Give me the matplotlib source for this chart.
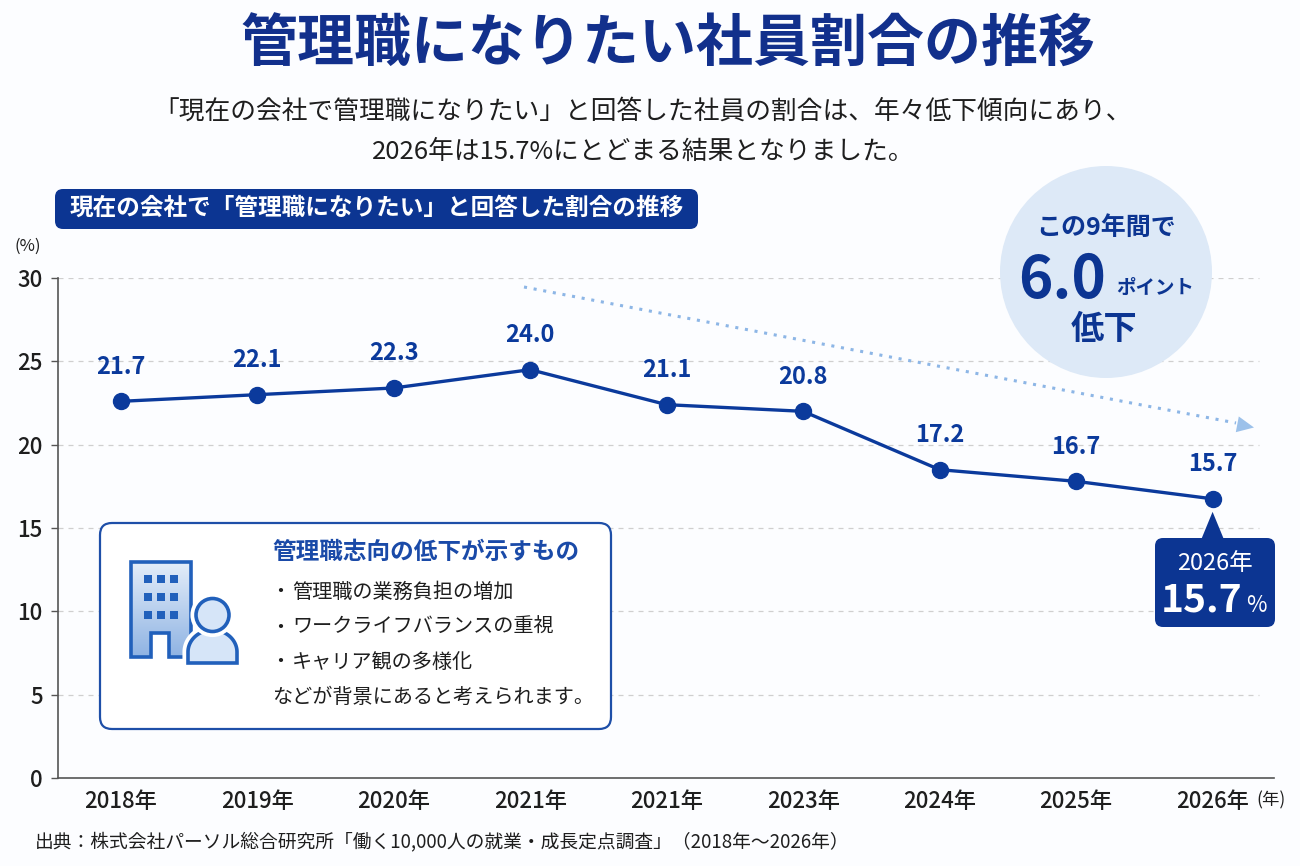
import numpy as np
import matplotlib
matplotlib.use('Agg')
import matplotlib.pyplot as plt
from matplotlib.patches import FancyBboxPatch, Circle, Polygon, Rectangle
from matplotlib.colors import LinearSegmentedColormap

plt.rcParams['font.family'] = ['Noto Sans CJK JP', 'DejaVu Sans']

# ---------------- data ----------------
years = ['2018年', '2019年', '2020年', '2021年', '2021年', '2023年', '2024年', '2025年', '2026年']
plot_values = [22.6, 23.0, 23.4, 24.5, 22.4, 22.0, 18.5, 17.8, 16.75]
label_values = ['21.7', '22.1', '22.3', '24.0', '21.1', '20.8', '17.2', '16.7', '15.7']
y_ticks = [0, 5, 10, 15, 20, 25, 30]

title = '管理職になりたい社員割合の推移'
subtitle1 = '「現在の会社で管理職になりたい」と回答した社員の割合は、年々低下傾向にあり、'
subtitle2 = '2026年は15.7%にとどまる結果となりました。'
chart_label = '現在の会社で「管理職になりたい」と回答した割合の推移'
info_title = '管理職志向の低下が示すもの'
info_items = ['管理職の業務負担の増加', 'ワークライフバランスの重視', 'キャリア観の多様化']
info_last = 'などが背景にあると考えられます。'
source = '出典：株式会社パーソル総合研究所「働く10,000人の就業・成長定点調査」（2018年～2026年）'

NAVY = '#0c3592'
LINE = '#0b3a9c'
TXT = '#1e1e1e'

W, H = 1300, 866
fig = plt.figure(figsize=(13, 8.66), dpi=100)
fig.patch.set_facecolor('#fcfdff')

ax = fig.add_axes([58 / W, 88 / H, (1274 - 58) / W, 500 / H])
ax.patch.set_alpha(0)
x = np.arange(len(years))
ax.set_xlim(-0.46, 8.45)
ax.set_ylim(0, 30)
ax.hlines(y_ticks[1:], -0.46, 8.34, colors='#cfcfcf', linestyles=(0, (4, 4)), lw=0.9, zorder=1)
ax.plot(x, plot_values, color=LINE, lw=2.4, marker='o', ms=11.5, zorder=3)
for xi, v, lab in zip(x, plot_values, label_values):
    ax.annotate(lab, (xi, v), xytext=(0, 25), textcoords='offset points',
                ha='center', va='center', fontsize=17, fontweight='bold', color=LINE)
for s in ['top', 'right']:
    ax.spines[s].set_visible(False)
for s in ['left', 'bottom']:
    ax.spines[s].set_color('#555555')
    ax.spines[s].set_linewidth(1.2)
ax.set_yticks(y_ticks)
ax.set_yticklabels([str(t) for t in y_ticks], fontsize=16, color=TXT, fontweight='medium')
ax.tick_params(axis='y', length=5, width=1, color='#555555', pad=6)
ax.set_xticks(x)
ax.set_xticklabels(years, fontsize=16, color=TXT, fontweight='medium')
ax.tick_params(axis='x', length=0, pad=9)

# ---------------- overlay (pixel coords, top-left origin) ----------------
ov = fig.add_axes([0, 0, 1, 1], zorder=5)
ov.patch.set_alpha(0)
ov.axis('off')

ov.text(668, 45, title, fontsize=41, fontweight='bold', color='#12308c', ha='center', va='center')
ov.text(643, 112, subtitle1, fontsize=18.5, color=TXT, ha='center', va='center')
ov.text(643, 152, subtitle2, fontsize=18.5, color=TXT, ha='center', va='center')

ov.add_patch(FancyBboxPatch((55, 189), 643, 40, boxstyle='round,pad=0,rounding_size=8',
                            fc=NAVY, ec='none'))
ov.text(377, 208, chart_label, fontsize=17, fontweight='bold', color='white', ha='center', va='center')

ov.text(14, 246, '(%)', fontsize=12, color=TXT, ha='left', va='center')
ov.text(1256, 800, '(年)', fontsize=12.5, color=TXT, ha='left', va='center')

# trend arrow
ov.plot([524, 1236], [287, 423], ls=(0, (1, 2.2)), lw=2.2, color='#8db6e6', solid_capstyle='round')
tip = np.array([1254, 427.5])
d = np.array([714, 136.0]); d /= np.linalg.norm(d)
nrm = np.array([-d[1], d[0]])
base = tip - d * 17
ov.add_patch(Polygon([tip, base + nrm * 8, base - nrm * 8], closed=True, fc='#9cc1ea', ec='none'))

# circle badge
ov.add_patch(Circle((1106, 272), 106, fc='#dde9f7', ec='none'))
ov.text(1106, 228, 'この9年間で', fontsize=18, fontweight='bold', color=NAVY, ha='center', va='center')
ov.text(1062, 281, '6.0', fontsize=42, fontweight='bold', color=NAVY, ha='center', va='center')
ov.text(1155, 288, 'ポイント', fontsize=14, fontweight='bold', color=NAVY, ha='center', va='center')
ov.text(1104, 330, '低下', fontsize=24, fontweight='bold', color=NAVY, ha='center', va='center')

# callout for last point
px, py = ax.transData.transform((x[-1], plot_values[-1]))
py = H - py
ov.add_patch(FancyBboxPatch((1155, 538), 120, 89, boxstyle='round,pad=0,rounding_size=8',
                            fc=NAVY, ec='none'))
ov.add_patch(Polygon([(px, py + 13), (px - 12, 541), (px + 12, 541)], closed=True, fc=NAVY, ec='none'))
ov.text(1215, 563, '2026年', fontsize=17, color='white', ha='center', va='center')
ov.text(1202, 600, label_values[-1], fontsize=28, fontweight='bold', color='white', ha='center', va='center')
ov.text(1256, 605, '%', fontsize=16, color='white', ha='center', va='center')

# info box
ov.add_patch(FancyBboxPatch((100, 523), 511, 206, boxstyle='round,pad=0,rounding_size=12',
                            fc='white', ec='#1e4fa8', lw=1.6))
ov.text(272, 552, info_title, fontsize=17, fontweight='bold', color='#1a4aa8', ha='left', va='center')
for i, item in enumerate(info_items):
    yy = 592 + 35 * i
    ov.text(270, yy, '・', fontsize=14.5, color=TXT, ha='left', va='center')
    ov.text(292, yy, item, fontsize=14.5, color=TXT, ha='left', va='center')
ov.text(272, 697, info_last, fontsize=14.5, color=TXT, ha='left', va='center')

# building icon
ICON = '#2160bb'
bld = Polygon([(131, 562), (191, 562), (191, 657), (169, 657), (169, 633), (151, 633), (151, 657), (131, 657)],
              closed=True, fc='none', ec=ICON, lw=2.6, joinstyle='miter')
grad_cmap = LinearSegmentedColormap.from_list('g', ['#e3edf9', '#8fb3e3'])
grad = np.linspace(0, 1, 100).reshape(-1, 1)
im = ov.imshow(grad, extent=(131, 191, 657, 562), cmap=grad_cmap, aspect='auto', zorder=2)
ov.add_patch(bld)
im.set_clip_path(bld)
bld.set_zorder(3)
for cx in [144, 157, 170]:
    for cy in [575, 593, 611]:
        ov.add_patch(Rectangle((cx, cy), 7.5, 7.5, fc=ICON, ec='none', zorder=3))

# person icon
t = np.linspace(0, np.pi, 60)
body = [(212.5 + 24.5 * np.cos(tt), 652 - 22 * np.sin(tt)) for tt in t]
body = [(237, 663)] + body + [(188, 663)]
ov.add_patch(Polygon(body, closed=True, fc='white', ec='white', lw=8, zorder=4))
ov.add_patch(Polygon(body, closed=True, fc='#d6e5f8', ec=ICON, lw=2.6, zorder=5))
ov.add_patch(Circle((212.5, 615), 16.5, fc='white', ec='white', lw=8, zorder=6))
ov.add_patch(Circle((212.5, 615), 16.5, fc='#d6e5f8', ec=ICON, lw=2.6, zorder=7))

# source
ov.text(35, 842, source, fontsize=13.5, color=TXT, ha='left', va='center')

ov.set_xlim(0, W)
ov.set_ylim(H, 0)

fig.savefig('out.png', dpi=100, facecolor=fig.get_facecolor())
